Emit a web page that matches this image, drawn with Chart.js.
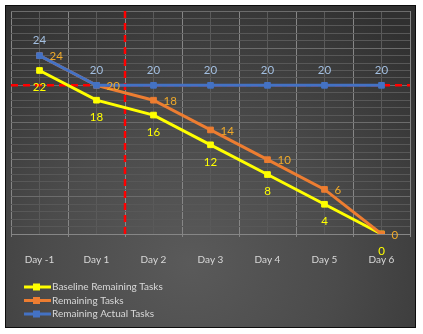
<!DOCTYPE html>
<html>
<head>
<meta charset="utf-8">
<script src="https://cdn.jsdelivr.net/npm/chart.js@4/dist/chart.umd.min.js"></script>
<style>
  html, body { margin: 0; padding: 0; background: #fff; }
  #frame {
    position: absolute; left: 5px; top: 5px;
    width: 409px; height: 321px;
    border: 1px solid #0d0d0d;
    background: radial-gradient(ellipse 80% 95% at 45% 80%, #5a5a5a 0%, #4b4b4b 45%, #303030 100%);
  }
  canvas { display: block; }
</style>
</head>
<body>
<div id="frame"><canvas id="chart-area" width="409" height="321"></canvas></div>
<script>
var days = ['Day -1', 'Day 1', 'Day 2', 'Day 3', 'Day 4', 'Day 5', 'Day 6'];
var baselineRemaining = [22, 18, 16, 12, 8, 4, 0];
var remainingTasks = [24, 20, 18, 14, 10, 6, 0];
var remainingActual = [24, 20, 20, 20, 20, 20, 20];
var targetLevel = 20;   // red dashed horizontal line
var cutoffIndex = 1.5;  // red dashed vertical line, between Day 1 and Day 2

// where each series puts its value labels
var labelPlacement = ['bottom', 'right', 'top'];
var labelColors = ['#ffff00', '#f0aa2a', '#a3bfe0'];

var redLines = {
  id: 'redLines',
  beforeDatasetsDraw: function(chart) {
    var ctx = chart.ctx;
    var area = chart.chartArea;
    var y = chart.scales.y.getPixelForValue(targetLevel);
    var x = chart.scales.x.getPixelForValue(cutoffIndex);
    ctx.save();
    ctx.strokeStyle = '#ff0000';
    ctx.lineWidth = 2.5;
    ctx.setLineDash([7, 5]);
    ctx.beginPath();
    ctx.moveTo(area.left, y);
    ctx.lineTo(area.right, y);
    ctx.moveTo(x, area.top);
    ctx.lineTo(x, area.bottom);
    ctx.stroke();
    ctx.restore();
  }
};

var dataLabels = {
  id: 'dataLabels',
  afterDatasetsDraw: function(chart) {
    var ctx = chart.ctx;
    ctx.save();
    ctx.font = '11.5px Lato';
    ctx.textBaseline = 'middle';
    chart.data.datasets.forEach(function(ds, i) {
      var meta = chart.getDatasetMeta(i);
      ctx.fillStyle = labelColors[i];
      meta.data.forEach(function(pt, j) {
        var txt = String(ds.data[j]);
        if (labelPlacement[i] == 'top') {
          ctx.textAlign = 'center';
          ctx.fillText(txt, pt.x, pt.y - 15);
        } else if (labelPlacement[i] == 'bottom') {
          ctx.textAlign = 'center';
          ctx.fillText(txt, pt.x, pt.y + 17);
        } else {
          ctx.textAlign = 'left';
          ctx.fillText(txt, pt.x + 10, pt.y + 1);
        }
      });
    });
    ctx.restore();
  }
};

// legend stacked in one column, line + square marker like the original
var stackedLegend = {
  id: 'stackedLegend',
  afterDraw: function(chart) {
    var ctx = chart.ctx;
    ctx.save();
    ctx.font = '10px Lato';
    ctx.textBaseline = 'middle';
    ctx.textAlign = 'left';
    chart.data.datasets.forEach(function(ds, i) {
      var y = 281 + i * 13.5;
      ctx.strokeStyle = ds.borderColor;
      ctx.lineWidth = 3;
      ctx.beginPath();
      ctx.moveTo(18, y);
      ctx.lineTo(45, y);
      ctx.stroke();
      ctx.fillStyle = ds.borderColor;
      ctx.fillRect(27, y - 3.5, 7, 7);
      ctx.fillStyle = '#d9d9d9';
      ctx.fillText(ds.label, 46, y);
    });
    ctx.restore();
  }
};

function makeSeries(label, data, color, order) {
  return {
    label: label,
    data: data,
    borderColor: color,
    backgroundColor: color,
    borderWidth: 3,
    pointStyle: 'rect',
    pointRadius: 4,
    pointBorderWidth: 1,
    pointHoverRadius: 4,
    tension: 0,
    order: order
  };
}

var config = {
  type: 'line',
  data: {
    labels: days,
    datasets: [
      makeSeries('Baseline Remaining Tasks', baselineRemaining, '#ffff00', 3),
      makeSeries('Remaining Tasks', remainingTasks, '#ed7d31', 2),
      makeSeries('Remaining Actual Tasks', remainingActual, '#4472c4', 1)
    ]
  },
  options: {
    responsive: false,
    animation: false,
    layout: {
      padding: { left: 3, right: 4, top: 4, bottom: 44 }
    },
    plugins: {
      legend: { display: false },
      tooltip: { enabled: false }
    },
    scales: {
      x: {
        offset: true,
        grid: {
          offset: true,
          color: '#868686',
          tickColor: '#868686',
          tickLength: 3
        },
        border: { color: '#868686' },
        ticks: {
          padding: 17,
          color: '#d9d9d9',
          font: { family: 'Lato', size: 10 }
        }
      },
      x2: {
        type: 'category',
        labels: days,
        position: 'top',
        offset: true,
        grid: { offset: false, color: '#5a5a5a', drawTicks: false },
        border: { display: false },
        ticks: { display: false }
      },
      y: {
        min: 0,
        max: 30,
        border: { display: false },
        grid: {
          drawTicks: false,
          color: function(c) {
            return c.tick.value % 5 === 0 ? '#6c6c6c' : '#585858';
          }
        },
        ticks: { display: false, stepSize: 1 }
      }
    }
  },
  plugins: [redLines, dataLabels, stackedLegend]
};

window.onload = function() {
  var ctx = document.getElementById('chart-area').getContext('2d');
  window.burnChart = new Chart(ctx, config);
};
</script>
</body>
</html>
